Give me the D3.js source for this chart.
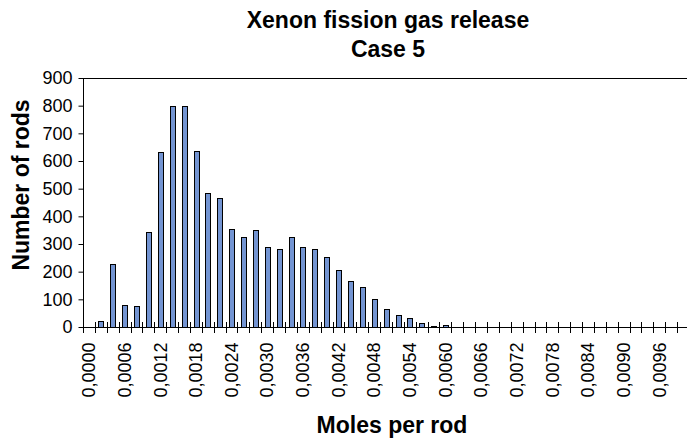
<!doctype html>
<html>
  <head>
    <title>Xenon fission gas release</title>
    <style>
      body { margin: 0; background: #fff; }
      svg { font-family: 'Liberation Sans', Arial, sans-serif; }
    </style>
  </head>
  <body>
    <svg width='687' height='443'></svg>

  <script src='https://cdn.jsdelivr.net/npm/d3@7'></script>
  <script>
// Bins of 0.0002 moles per rod, 0.0000 .. 0.0100
var bins = d3.range(51).map(function(i) { return (i * 0.0002).toFixed(4); });
var rods = [0, 20, 228, 80, 76, 345, 632, 800, 800, 636,
            485, 468, 355, 325, 350, 290, 282, 325, 290, 282,
            252, 205, 166, 146, 101, 65, 43, 31, 13, 3,
            6, 0, 0, 0, 0, 0, 0, 0, 0, 0,
            0, 0, 0, 0, 0, 0, 0, 0, 0, 0, 0];
var yTicks = [0, 100, 200, 300, 400, 500, 600, 700, 800, 900];
var xLabels = bins.filter(function(d, i) { return i % 3 === 0 && i < 50; });

var svg = d3.select('svg'),
  plotLeft = 83, plotRight = 689, plotTop = 78, plotBottom = 327;

var x = d3.scaleBand().domain(bins).range([plotLeft, plotRight])
  .paddingInner(0.6).paddingOuter(0.3);
var edge = d3.scaleLinear().domain([0, bins.length]).range([plotLeft, plotRight]);
var y = d3.scaleLinear().domain([0, 900]).range([plotBottom, plotTop]);

var table = bins.map(function(b, i) { return {bin: b, count: rods[i]}; })
  .filter(function(d) { return d.count > 0; });

// bars
svg.append('g').selectAll('rect')
  .data(table)
  .join('rect')
  .attr('x', function(d) { return Math.round(x(d.bin)) + 0.5; })
  .attr('y', function(d) { return Math.round(y(d.count)) + 0.5; })
  .attr('width', Math.round(x.bandwidth()))
  .attr('height', function(d) { return plotBottom - Math.round(y(d.count)); })
  .attr('fill', '#7394d2')
  .attr('stroke', '#000')
  .attr('stroke-width', 1);

// top border of plot area
svg.append('line')
  .attr('x1', plotLeft).attr('x2', plotRight)
  .attr('y1', plotTop + 0.5).attr('y2', plotTop + 0.5)
  .attr('stroke', '#000');

// y axis
var yAxis = svg.append('g')
  .attr('transform', 'translate(' + (plotLeft + 0.5) + ',0)')
  .call(d3.axisLeft(y).tickValues(yTicks).tickSize(5).tickSizeOuter(0).tickPadding(6));
yAxis.select('.domain').attr('d', 'M0,' + plotTop + 'V' + (plotBottom + 6));
yAxis.selectAll('text').attr('font-size', 18).attr('font-family', null).attr('fill', '#000');

// x axis: labels at category centres, cross ticks at category edges
var xAxis = svg.append('g')
  .attr('transform', 'translate(0,' + (plotBottom + 0.5) + ')')
  .call(d3.axisBottom(x).tickValues(xLabels).tickSize(0).tickSizeOuter(0)
    .tickFormat(function(d) { return d.replace('.', ','); }));
xAxis.select('.domain').attr('d', 'M' + plotLeft + ',0H' + plotRight);
xAxis.selectAll('text')
  .attr('font-size', 18).attr('font-family', null).attr('fill', '#000')
  .attr('transform', 'rotate(-90)')
  .attr('text-anchor', 'end')
  .attr('x', -15).attr('y', 0).attr('dy', '0.35em');

xAxis.selectAll('.edge')
  .data(d3.range(1, bins.length + 1))
  .join('line')
  .attr('class', 'edge')
  .attr('x1', function(d) { return Math.round(edge(d)) + 0.5; })
  .attr('x2', function(d) { return Math.round(edge(d)) + 0.5; })
  .attr('y1', -5.5).attr('y2', 5.5)
  .attr('stroke', '#000');

// titles
var title = svg.append('text')
  .attr('text-anchor', 'middle')
  .attr('font-size', 23).attr('font-weight', 'bold');
title.append('tspan').attr('x', 388).attr('y', 28).text('Xenon fission gas release');
title.append('tspan').attr('x', 388).attr('y', 57).text('Case 5');

svg.append('text')
  .attr('transform', 'translate(29,185) rotate(-90)')
  .attr('text-anchor', 'middle')
  .attr('font-size', 23).attr('font-weight', 'bold')
  .text('Number of rods');

svg.append('text')
  .attr('x', 392).attr('y', 433)
  .attr('text-anchor', 'middle')
  .attr('font-size', 23).attr('font-weight', 'bold')
  .text('Moles per rod');
  </script>
  </body>
</html>
